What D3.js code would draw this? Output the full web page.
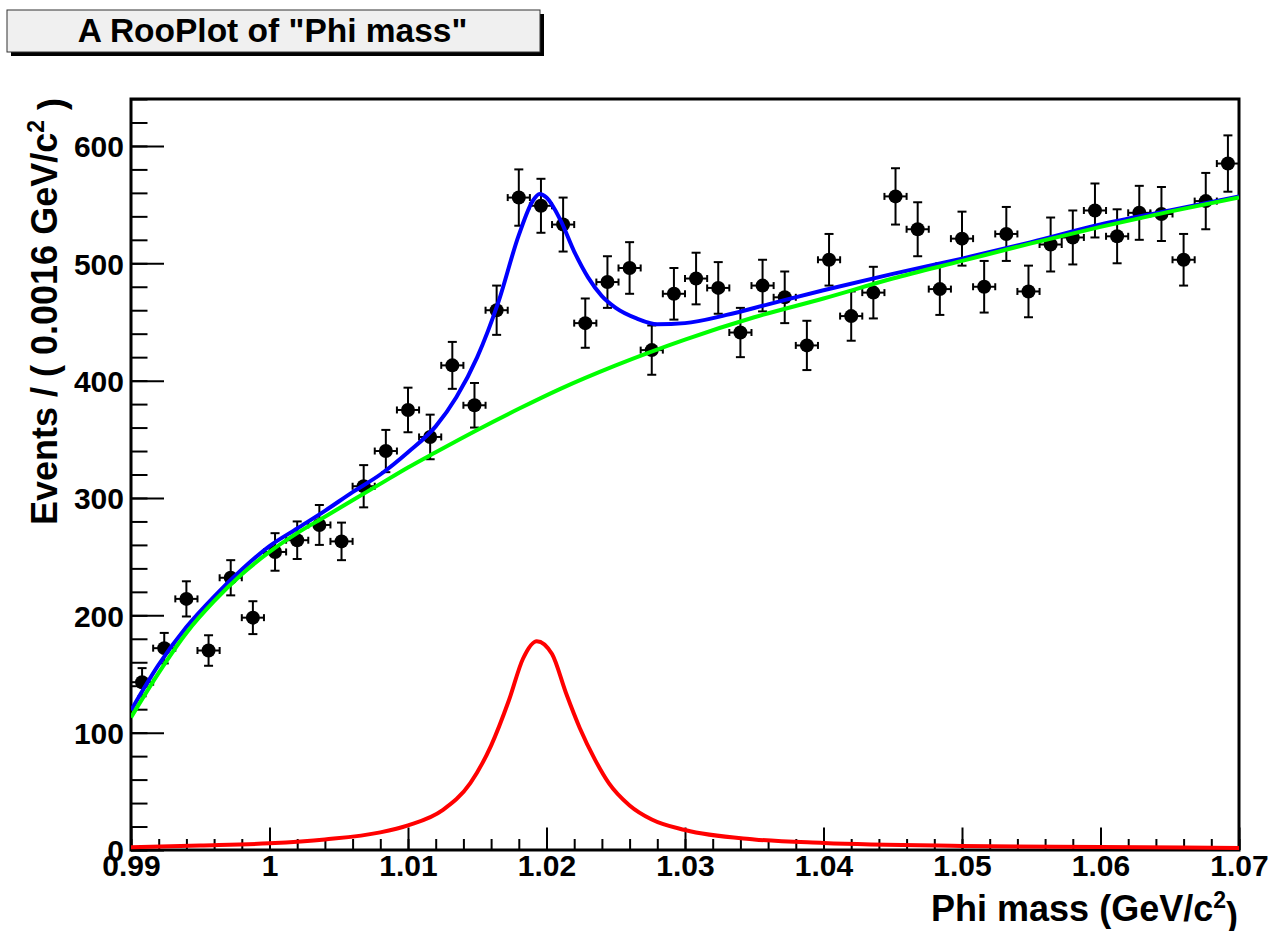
<!DOCTYPE html>
<html>
<head>
<meta charset="utf-8">
<script src="https://cdn.jsdelivr.net/npm/d3@7"></script>
<style>
  html, body { margin: 0; padding: 0; background: #ffffff; }
  svg { display: block; }
  text { font-family: "Liberation Sans", Arial, Helvetica, sans-serif; font-weight: bold; fill: #000; }
</style>
</head>
<body>
<svg id="chart" width="1274" height="931"></svg>
<script>
// ---------------- DATA ----------------
const titleText = 'A RooPlot of "Phi mass"';
const xTickValues = [0.99, 1.00, 1.01, 1.02, 1.03, 1.04, 1.05, 1.06, 1.07];
const yTickValues = [0, 100, 200, 300, 400, 500, 600];
const xDomain = [0.99, 1.07];
const yDomain = [0, 640];
const binHalfWidth = 0.0008;

const binCenters = [
  0.9908, 0.9924, 0.9940, 0.9956, 0.9972, 0.9988, 1.0004, 1.0020, 1.0036, 1.0052,
  1.0068, 1.0084, 1.0100, 1.0116, 1.0132, 1.0148, 1.0164, 1.0180, 1.0196, 1.0212,
  1.0228, 1.0244, 1.0260, 1.0276, 1.0292, 1.0308, 1.0324, 1.0340, 1.0356, 1.0372,
  1.0388, 1.0404, 1.0420, 1.0436, 1.0452, 1.0468, 1.0484, 1.0500, 1.0516, 1.0532,
  1.0548, 1.0564, 1.0580, 1.0596, 1.0612, 1.0628, 1.0644, 1.0660, 1.0676, 1.0692
];
const counts = [
  143, 172, 214, 170, 232, 198, 254, 264, 277, 263,
  310, 340, 375, 352, 413, 379, 460, 556, 549, 533,
  449, 484, 496, 426, 474, 487, 479, 441, 481, 471,
  430, 503, 455, 475, 557, 529, 478, 521, 480, 525,
  476, 516, 522, 545, 523, 543, 542, 503, 553, 585
];
const countErrors = [
  12, 13, 15, 13, 15, 14, 16, 16, 17, 16,
  18, 18, 19, 19, 20, 19, 21, 24, 23, 23,
  21, 22, 22, 21, 22, 22, 22, 21, 22, 22,
  21, 22, 21, 22, 24, 23, 22, 23, 22, 23,
  22, 23, 23, 23, 23, 23, 23, 22, 24, 24
];

// total fit (blue)
const totalX = [0.990, 0.992, 0.994, 0.996, 0.998, 1.000, 1.002, 1.004, 1.006, 1.008,
  1.010, 1.012, 1.0135, 1.015, 1.0165, 1.018, 1.019, 1.0195, 1.020, 1.021,
  1.022, 1.023, 1.024, 1.025, 1.0265, 1.028, 1.030, 1.033, 1.036, 1.040,
  1.045, 1.050, 1.055, 1.060, 1.065, 1.070];
const totalY = [119, 158, 190, 216, 239, 259, 274, 289, 305, 320,
  339, 361, 386, 420, 466, 524, 553, 559, 556, 537,
  510, 488, 472, 462, 453, 448, 449, 456, 465, 477,
  491, 504, 518, 533, 545, 557];

// background component (green)
const bkgX = [0.990, 0.992, 0.994, 0.996, 0.998, 1.000, 1.002, 1.004, 1.006, 1.008,
  1.010, 1.012, 1.015, 1.018, 1.021, 1.025, 1.030, 1.035, 1.040, 1.045,
  1.050, 1.055, 1.060, 1.065, 1.070];
const bkgY = [113, 151, 185, 212, 235, 254, 270, 284, 298, 312,
  326, 339, 358, 376, 393, 413, 435, 454, 470, 487,
  502, 517, 531, 544, 556];

// signal component (red)
const sigX = [0.990, 0.995, 1.000, 1.004, 1.008, 1.010, 1.0125, 1.0145, 1.016, 1.0173,
  1.0183, 1.0193, 1.0204, 1.0214, 1.0224, 1.0235, 1.0245, 1.026, 1.0276, 1.030,
  1.035, 1.040, 1.050, 1.060, 1.070];
const sigY = [2.3, 3.8, 5.7, 9, 15, 21, 34, 57, 89, 128,
  163, 178, 167, 134, 104, 77, 57, 38, 26, 17,
  9, 6, 3.5, 2.5, 1.8];

// ---------------- LAYOUT ----------------
const frame = { left: 131, right: 1239, top: 99, bottom: 850 };
const svg = d3.select('#chart');

const x = d3.scaleLinear().domain(xDomain).range([frame.left, frame.right]);
const y = d3.scaleLinear().domain(yDomain).range([frame.bottom, frame.top]);

// Title box with shadow
const tb = { x: 7, y: 10, w: 533, h: 42 };
svg.append('rect').attr('x', tb.x + 4).attr('y', tb.y + 4).attr('width', tb.w).attr('height', tb.h).attr('fill', '#000');
svg.append('rect').attr('x', tb.x).attr('y', tb.y).attr('width', tb.w).attr('height', tb.h)
  .attr('fill', '#f0f0f0').attr('stroke', '#333').attr('stroke-width', 1);
svg.append('text').attr('x', tb.x + tb.w / 2 - 1).attr('y', tb.y + 32)
  .attr('text-anchor', 'middle').style('font-size', '33.5px').text(titleText);

// clip
svg.append('defs').append('clipPath').attr('id', 'plotclip')
  .append('rect').attr('x', frame.left).attr('y', frame.top)
  .attr('width', frame.right - frame.left).attr('height', frame.bottom - frame.top);

// ---------------- AXES ----------------
const fmtX = d => String(+d.toFixed(2));
const xMinor = d3.range(0, 41).map(i => xDomain[0] + i * 0.002);
const yMinor = d3.range(0, 33).map(i => i * 20);

const xAxisMinor = svg.append('g').attr('transform', `translate(0,${frame.bottom})`)
  .call(d3.axisBottom(x).tickValues(xMinor).tickSize(-11).tickFormat(''));
const xAxis = svg.append('g').attr('transform', `translate(0,${frame.bottom})`)
  .call(d3.axisBottom(x).tickValues(xTickValues).tickSize(-22.5).tickPadding(4).tickFormat(fmtX));
const yAxisMinor = svg.append('g').attr('transform', `translate(${frame.left},0)`)
  .call(d3.axisLeft(y).tickValues(yMinor).tickSize(-16.5).tickFormat(''));
const yAxis = svg.append('g').attr('transform', `translate(${frame.left},0)`)
  .call(d3.axisLeft(y).tickValues(yTickValues).tickSize(-33).tickPadding(7).tickFormat(d3.format('d')));

[xAxisMinor, xAxis, yAxisMinor, yAxis].forEach(g => {
  g.select('.domain').remove();
  g.selectAll('line').attr('stroke', '#000').attr('stroke-width', 2);
  g.selectAll('text').style('font-size', '30px').style('font-family', '"Liberation Sans", Arial, sans-serif')
    .style('font-weight', 'bold').attr('fill', '#000');
});
xAxis.selectAll('text').attr('dy', '0.72em');
yAxis.selectAll('text').attr('dy', '0.36em');

// frame
svg.append('rect').attr('x', frame.left).attr('y', frame.top)
  .attr('width', frame.right - frame.left).attr('height', frame.bottom - frame.top)
  .attr('fill', 'none').attr('stroke', '#000').attr('stroke-width', 3);

// axis titles
const yt = svg.append('text').attr('transform', `translate(57,${frame.top - 1}) rotate(-90)`)
  .attr('text-anchor', 'end').style('font-size', '36px');
yt.append('tspan').text('Events / ( 0.0016 GeV/c');
yt.append('tspan').attr('dy', '-0.55em').style('font-size', '23px').text('2');
yt.append('tspan').attr('dy', '0.55em').text(' )');

const xt = svg.append('text').attr('x', frame.right - 1).attr('y', 921)
  .attr('text-anchor', 'end').style('font-size', '36px');
xt.append('tspan').text('Phi mass (GeV/c');
xt.append('tspan').attr('dy', '-0.55em').style('font-size', '23px').text('2');
xt.append('tspan').attr('dy', '0.55em').text(')');

// ---------------- DATA POINTS ----------------
const pts = binCenters.map((c, i) => ({ x: c, n: counts[i], e: countErrors[i] }));
const gData = svg.append('g').attr('clip-path', 'url(#plotclip)');
const bars = gData.selectAll('g.pt').data(pts).join('g').attr('class', 'pt');
bars.append('line').attr('x1', d => x(d.x)).attr('x2', d => x(d.x))
  .attr('y1', d => y(d.n - d.e)).attr('y2', d => y(d.n + d.e));
bars.append('line').attr('x1', d => x(d.x) - 4.5).attr('x2', d => x(d.x) + 4.5)
  .attr('y1', d => y(d.n + d.e)).attr('y2', d => y(d.n + d.e));
bars.append('line').attr('x1', d => x(d.x) - 4.5).attr('x2', d => x(d.x) + 4.5)
  .attr('y1', d => y(d.n - d.e)).attr('y2', d => y(d.n - d.e));
bars.append('line').attr('x1', d => x(d.x - binHalfWidth)).attr('x2', d => x(d.x + binHalfWidth))
  .attr('y1', d => y(d.n)).attr('y2', d => y(d.n));
bars.append('line').attr('x1', d => x(d.x - binHalfWidth)).attr('x2', d => x(d.x - binHalfWidth))
  .attr('y1', d => y(d.n) - 3.5).attr('y2', d => y(d.n) + 3.5);
bars.append('line').attr('x1', d => x(d.x + binHalfWidth)).attr('x2', d => x(d.x + binHalfWidth))
  .attr('y1', d => y(d.n) - 3.5).attr('y2', d => y(d.n) + 3.5);
bars.selectAll('line').attr('stroke', '#000').attr('stroke-width', 2);
bars.append('circle').attr('cx', d => x(d.x)).attr('cy', d => y(d.n)).attr('r', 7).attr('fill', '#000');

// ---------------- CURVES ----------------
const line = d3.line().x(d => x(d[0])).y(d => y(d[1])).curve(d3.curveMonotoneX);
const gCurves = svg.append('g').attr('clip-path', 'url(#plotclip)');
function drawCurve(xs, ys, color) {
  gCurves.append('path').datum(xs.map((v, i) => [v, ys[i]]))
    .attr('d', line).attr('fill', 'none').attr('stroke', color)
    .attr('stroke-width', 4).attr('stroke-linejoin', 'round');
}
drawCurve(totalX, totalY, '#0000ff');
drawCurve(bkgX, bkgY, '#00ff00');
drawCurve(sigX, sigY, '#ff0000');
</script>
</body>
</html>
